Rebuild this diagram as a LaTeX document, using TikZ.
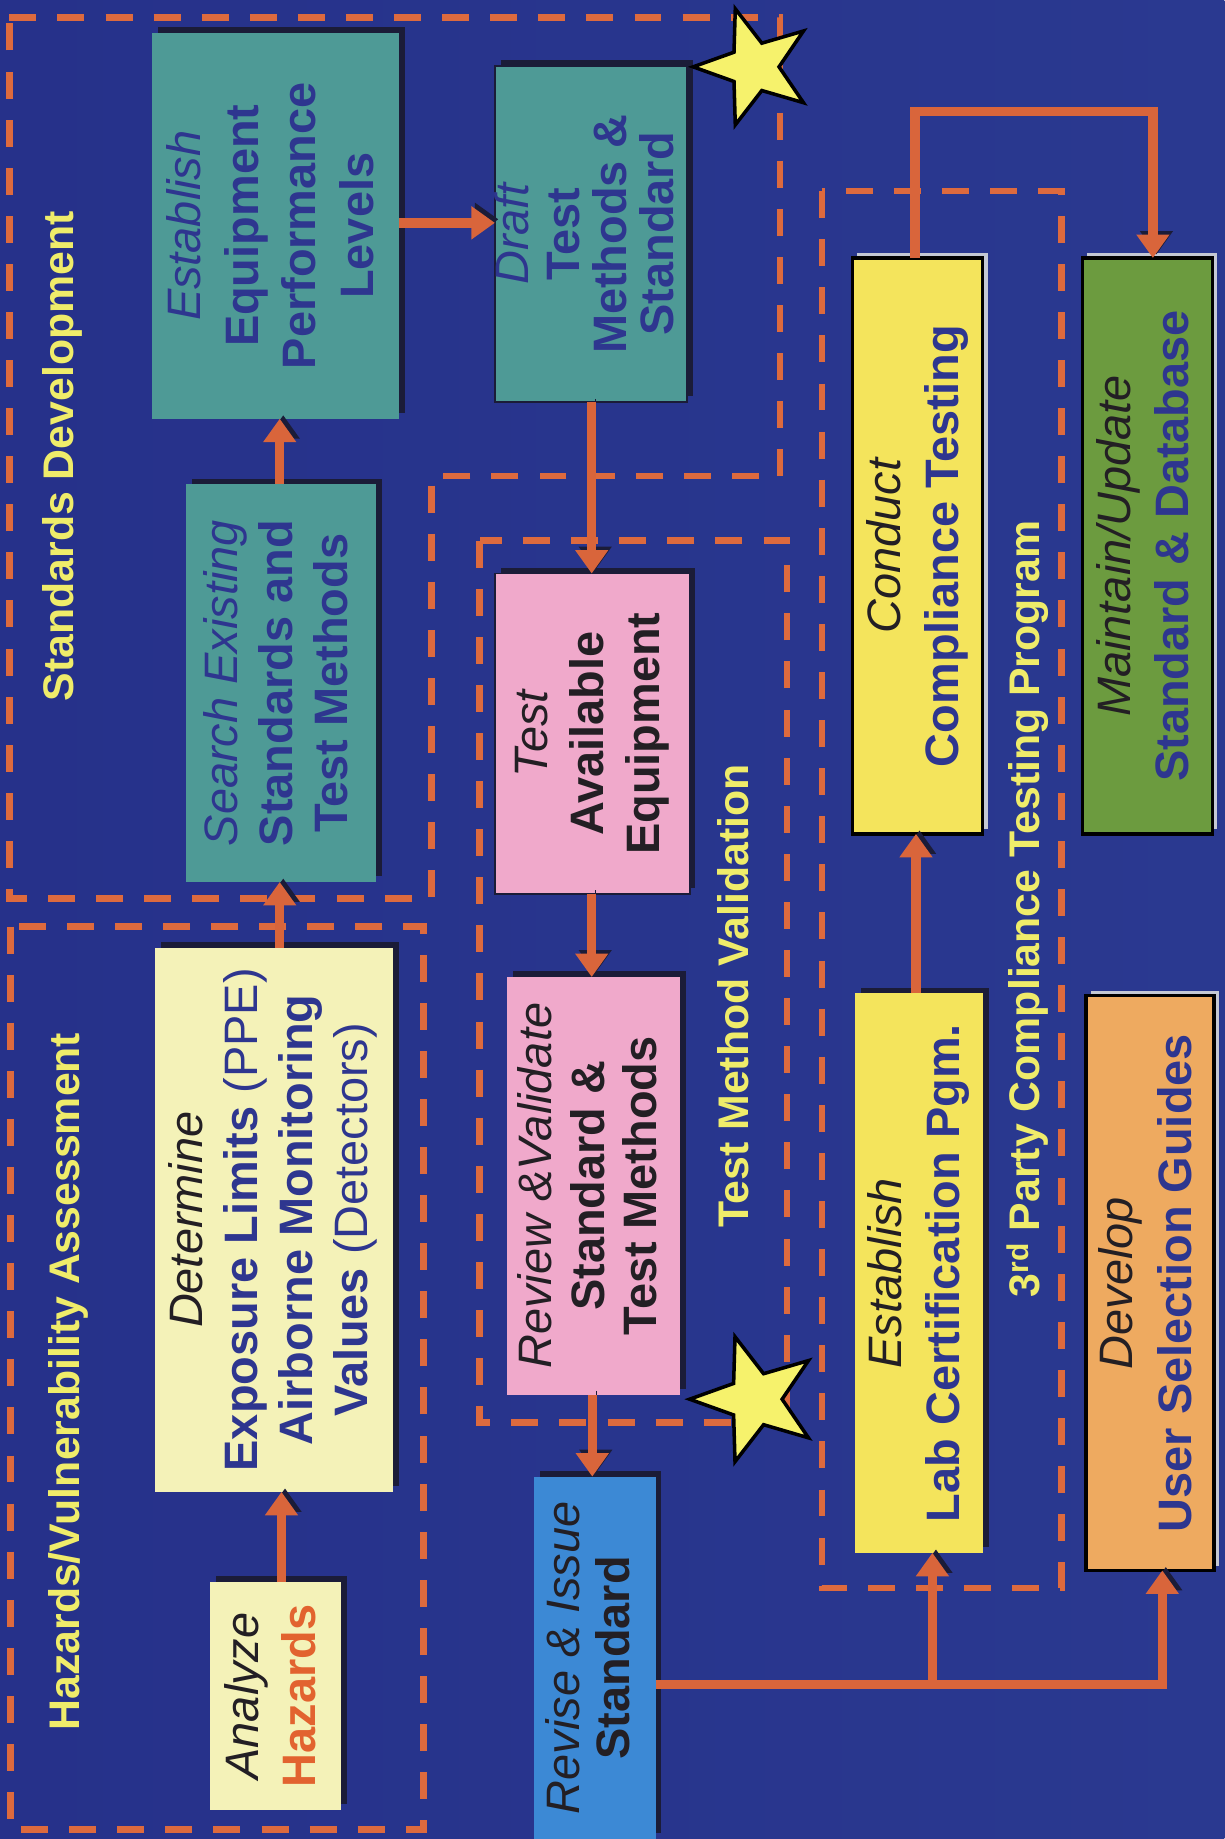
\documentclass[tikz,border=0pt]{standalone}
\usepackage{fontspec}
\setmainfont{Liberation Sans}
\usepackage{graphicx}
\usetikzlibrary{shapes.geometric,shadows,arrows.meta}
\definecolor{bgleft}{HTML}{26318A}
\definecolor{bgmid}{HTML}{2D3D96}
\definecolor{bgright}{HTML}{2A3990}
\definecolor{arrorange}{HTML}{D9653B}
\definecolor{dashorange}{HTML}{DD6A3E}
\definecolor{hazorange}{HTML}{E2632F}
\definecolor{navytext}{HTML}{2E368F}
\definecolor{darktext}{HTML}{231F24}
\definecolor{titleyellow}{HTML}{EFEC6A}
\definecolor{staryellow}{HTML}{F6F26C}
\definecolor{shadowdark}{HTML}{1B1C38}
\definecolor{liteshadow}{HTML}{C4C8D4}
\definecolor{tealbox}{HTML}{4E9A96}
\definecolor{paleyellow}{HTML}{F4F2B8}
\definecolor{pinkbox}{HTML}{F0A9CB}
\definecolor{bluebox}{HTML}{3C89D5}
\definecolor{yellowbox}{HTML}{F4E45C}
\definecolor{greenbox}{HTML}{6C9B3F}
\definecolor{orangebox}{HTML}{EEAA60}
\newcommand\boxtext[2]{\rotatebox{90}{\fontsize{40}{#1}\selectfont\begin{tabular}{@{}c@{}}#2\end{tabular}}}
\tikzset{
  boxbase/.style={rectangle, inner sep=0pt, outer sep=0pt},
  darkbox/.style={boxbase, general shadow={fill=shadowdark, shadow xshift=5pt, shadow yshift=5pt}},
  litebox/.style={boxbase, draw=black, line width=2.8pt, general shadow={fill=liteshadow, shadow xshift=4pt, shadow yshift=4pt}},
  thinrim/.style={draw=shadowdark, line width=1.5pt},
  grouptitle/.style={rotate=90, text=titleyellow, font=\fontsize{36.5}{40}\selectfont\bfseries, inner sep=0pt},
  dashbox/.style={draw=dashorange, line width=5.5pt, dash pattern=on 23pt off 18pt},
  arr/.style={draw=arrorange, line width=8pt, -{Triangle[width=27pt,length=20pt]},
    preaction={draw=shadowdark, transform canvas={shift={(3pt,3pt)}}}},
  starsty/.style={star, star points=5, star point ratio=2.45, shape border rotate=90,
    fill=staryellow, draw=black, line width=3pt, inner sep=0pt}
}
\begin{document}
\begin{tikzpicture}[x=1pt,y=-1pt]
\useasboundingbox (0,0) rectangle (1044,1568);
\shade[left color=bgleft, middle color=bgmid, right color=bgright] (0,0) rectangle (1044,1568);

% group frames
\draw[dashbox] (8,15) -- (665,15) -- (665,406) -- (368,406) -- (368,766) -- (8,766) -- cycle;
\draw[dashbox] (9,790) rectangle (361,1560);
\draw[dashbox] (409,461) rectangle (671,1213);
\draw[dashbox] (701,163) rectangle (905,1354);

% group titles
\node[grouptitle] (tsd) at (53,389) {Standards Development};
\node[grouptitle] (thva) at (58,1178) {Hazards/Vulnerability Assessment};
\node[grouptitle] (ttmv) at (625,849) {Test Method Validation};
\node[grouptitle] (tcomp) at (876,775) {3\textsuperscript{rd} Party Compliance Testing Program};

% boxes
\node[darkbox, fill=tealbox, text=navytext, minimum width=210, minimum height=329] (estab) at (235,192.5)
  {\boxtext{49}{{\itshape Establish}\\\textbf{Equipment}\\\textbf{Performance}\\\textbf{Levels}}};
\node[darkbox, fill=tealbox, text=navytext, minimum width=162, minimum height=339] (search) at (240,582.5)
  {\boxtext{47}{{\itshape Search Existing}\\\textbf{Standards and}\\\textbf{Test Methods}}};
\node[darkbox, fill=paleyellow, text=navytext, minimum width=203, minimum height=464] (determ) at (233.5,1040)
  {\boxtext{47}{{\itshape\color{darktext}Determine}\\\textbf{Exposure Limits} (PPE)\\\textbf{Airborne Monitoring}\\\textbf{Values} (Detectors)}};
\node[darkbox, fill=paleyellow, text=darktext, minimum width=112, minimum height=194] (analyze) at (235,1446)
  {\boxtext{48}{{\itshape Analyze}\\{\bfseries\color{hazorange}Hazards}}};
\node[darkbox, thinrim, fill=tealbox, text=navytext, minimum width=164, minimum height=287] (draft) at (504,199.5)
  {\boxtext{38}{{\itshape Draft}\\[4pt]\textbf{Test}\\\textbf{Methods \&}\\\textbf{Standard}}};
\node[darkbox, thinrim, fill=pinkbox, text=darktext, minimum width=166, minimum height=273] (testeq) at (505,625.5)
  {\boxtext{48}{{\itshape Test}\\\textbf{Available}\\\textbf{Equipment}}};
\node[darkbox, fill=pinkbox, text=darktext, minimum width=148, minimum height=356] (review) at (506,1011)
  {\boxtext{45}{{\itshape Review \&Validate}\\\textbf{Standard \&}\\\textbf{Test Methods}}};
\node[darkbox, fill=bluebox, text=darktext, minimum width=104, minimum height=309] (revise) at (507,1413.5)
  {\boxtext{42}{{\itshape Revise \& Issue}\\\textbf{Standard}}};
\node[litebox, fill=yellowbox, text=navytext, minimum width=111, minimum height=491] (conduct) at (782.5,465.5)
  {\boxtext{50}{{\itshape\color{darktext}Conduct}\\\textbf{Compliance Testing}}};
\node[litebox, fill=greenbox, text=navytext, minimum width=111, minimum height=491] (maintain) at (978.5,465.5)
  {\boxtext{50}{{\itshape\color{darktext}Maintain/Update}\\\textbf{Standard \& Database}}};
\node[darkbox, fill=yellowbox, text=navytext, minimum width=109, minimum height=477] (estlab) at (783.5,1085.5)
  {\boxtext{50}{{\itshape\color{darktext}Establish}\\\textbf{Lab Certification Pgm.}}};
\node[litebox, fill=orangebox, text=navytext, minimum width=109, minimum height=490] (develop) at (980.5,1094)
  {\boxtext{50}{{\itshape\color{darktext}Develop}\\\textbf{User Selection Guides}}};

% connectors
\draw[arr] (analyze.north -| 240,0) -- (determ.south -| 240,0);
\draw[arr] (determ.north -| 238.5,0) -- (search.south -| 238.5,0);
\draw[arr] (search.north -| 238.5,0) -- (estab.south -| 238.5,0);
\draw[arr] (estab.east |- 0,190) -- (draft.west |- 0,190);
\draw[arr] (draft.south -| 504.5,0) -- (testeq.north -| 504.5,0);
\draw[arr] (testeq.south -| 504.5,0) -- (review.north -| 504.5,0);
\draw[arr] (review.south -| 505,0) -- (revise.north -| 505,0);
\draw[arr] (revise.east |- 0,1436) -| (develop.south -| 991,0);
\coordinate (br) at (795,1432);
\draw[arr] (br) -- (estlab.south -| br);
\draw[arr] (estlab.north -| 781,0) -- (conduct.south -| 781,0);
\coordinate (c1) at (780,95);
\coordinate (c2) at (983,95);
\draw[arr] (conduct.north -| c1) -- (c1) -- (c2) -- (maintain.north -| c2);

% stars
\node[starsty, minimum size=104] (star1) at (643,57) {};
\node[starsty, minimum size=112] (star2) at (644,1193) {};
\end{tikzpicture}
\end{document}
